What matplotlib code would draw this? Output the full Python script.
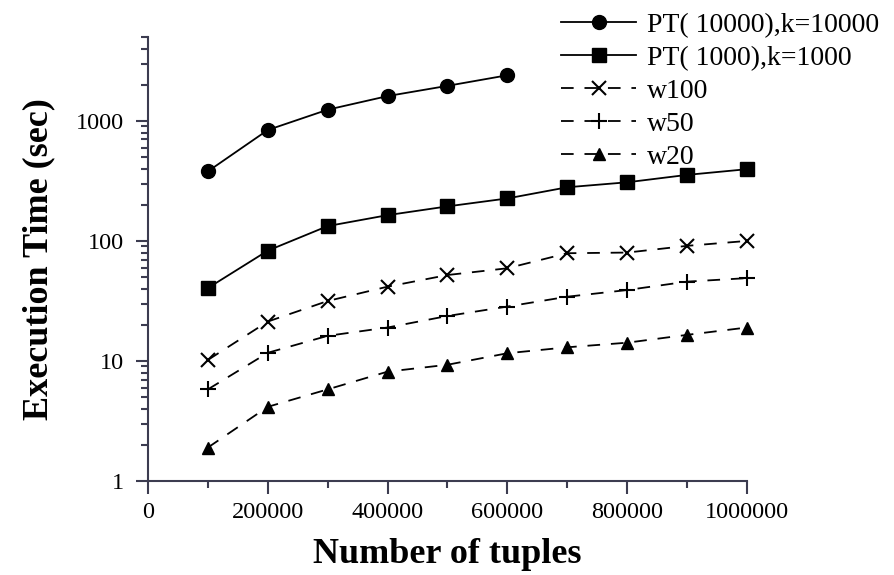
import matplotlib
matplotlib.use("Agg")
import matplotlib.pyplot as plt
from matplotlib.ticker import MultipleLocator, LogLocator, NullFormatter

plt.rcParams['font.family'] = ['Liberation Serif', 'DejaVu Serif']

tuples = [100000, 200000, 300000, 400000, 500000, 600000, 700000, 800000, 900000, 1000000]
pt10000 = [380, 840, 1240, 1610, 1960, 2400]
pt1000 = [40.5, 83, 133, 164, 194, 226, 280, 308, 355, 396]
w100 = [10.2, 21.3, 31.6, 41.6, 52, 59.2, 79, 80, 91, 100]
w50 = [5.8, 11.7, 16.2, 19, 23.7, 28.4, 34.3, 39, 45.8, 49]
w20 = [1.9, 4.15, 5.8, 8.15, 9.3, 11.6, 13, 14.2, 16.5, 19]

labels = ['PT( 10000),k=10000', 'PT( 1000),k=1000', 'w100', 'w50', 'w20']

fig = plt.figure(figsize=(8.94, 5.75), dpi=100)
ax = fig.add_axes([148 / 894, 94 / 575, 599 / 894, 444 / 575])

dash = (0, (7, 6))
ax.plot(tuples[:len(pt10000)], pt10000, '-', color='black', lw=1.3,
        marker='o', ms=10, label=labels[0])
ax.plot(tuples, pt1000, '-', color='black', lw=1.3,
        marker='s', ms=10, label=labels[1])
ax.plot(tuples, w100, color='black', lw=1.3, linestyle=dash,
        marker='x', ms=10, mew=1.5, label=labels[2])
ax.plot(tuples, w50, color='black', lw=1.3, linestyle=dash,
        marker='+', ms=11, mew=1.5, label=labels[3])
ax.plot(tuples, w20, color='black', lw=1.3, linestyle=dash,
        marker='^', ms=9, label=labels[4])

ax.set_yscale('log')
ax.set_ylim(1, 5000)
ax.set_xlim(0, 1000000)

ax.xaxis.set_major_locator(MultipleLocator(200000))
ax.xaxis.set_minor_locator(MultipleLocator(100000))
ax.set_yticks([1, 10, 100, 1000])
ax.set_yticklabels(['1', '10', '100', '1000'])
ax.yaxis.set_minor_locator(LogLocator(base=10, subs=range(2, 10)))
ax.yaxis.set_minor_formatter(NullFormatter())
ax.ticklabel_format(axis='x', style='plain')

axis_col = '#3c3c50'
for side in ['top', 'right']:
    ax.spines[side].set_visible(False)
for side in ['left', 'bottom']:
    ax.spines[side].set_color(axis_col)
    ax.spines[side].set_linewidth(1.5)

ax.tick_params(which='major', direction='out', length=9, width=1.5,
               color=axis_col, labelsize=17.5, pad=6)
ax.tick_params(axis='y', which='major', pad=8)
ax.tick_params(which='minor', direction='out', length=5, width=1.5,
               color=axis_col)

ax.set_xlabel('Number of tuples', fontsize=26, fontweight='bold', labelpad=11)
ax.set_ylabel('Execution Time (sec)', fontsize=26, fontweight='bold', labelpad=15)

for line in ax.get_lines():
    line.set_clip_on(False)

leg = fig.legend(loc='upper left', bbox_to_anchor=(536 / 894, 1.022),
                 frameon=False, fontsize=20, handlelength=2.7,
                 labelspacing=0.27, handletextpad=0.4)

fig.savefig('out.png', dpi=100)
